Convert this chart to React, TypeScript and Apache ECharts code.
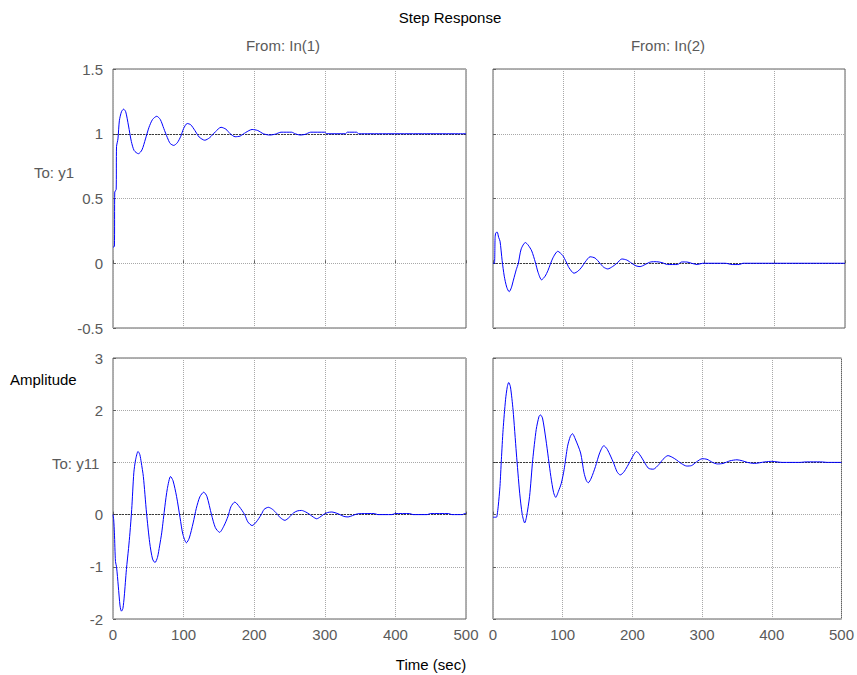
import React, { useEffect, useRef } from "react";
import * as echarts from "echarts";

// Step response samples [time (sec), amplitude]
const y1FromIn1: number[][] = [
  [0, 0.125], [2, 0.13], [2.5, 0.55], [4.5, 0.57], [5, 0.9], [7, 0.96], [9, 1.1], [12, 1.17], [15, 1.19],
  [18, 1.17], [22, 1.06], [26, 0.94], [30, 0.87], [36, 0.846], [41, 0.875], [46, 0.96], [51, 1.05],
  [56, 1.11], [62, 1.135], [67, 1.11], [72, 1.04], [77, 0.97], [81, 0.925], [86, 0.91], [91, 0.93],
  [96, 0.98], [100, 1.04], [105, 1.079], [110, 1.07], [116, 1.025], [122, 0.975], [130, 0.95],
  [137, 0.97], [145, 1.015], [153, 1.05], [160, 1.035], [166, 1.0], [173, 0.977], [180, 0.982],
  [188, 1.01], [197, 1.033], [205, 1.025], [213, 1.0], [222, 0.99], [230, 0.997], [238, 1.012],
  [253, 1.012], [258, 1.0], [265, 0.99], [272, 0.995], [280, 1.012], [300, 1.012], [303, 1.0],
  [329, 1.0], [332, 1.012], [345, 1.012], [348, 1.0], [500, 1.0],
];

const y1FromIn2: number[][] = [
  [0, 0], [2, 0], [3, 0.2], [4, 0.235], [6, 0.24], [8, 0.2], [10, 0.17], [13, 0.02], [16, -0.1],
  [19.5, -0.185], [23, -0.22], [26, -0.19], [29, -0.13], [33, -0.05], [36, 0], [40, 0.11], [46, 0.16],
  [50, 0.14], [55, 0.095], [60, 0.01], [64, -0.07], [69, -0.128], [74, -0.1], [78, -0.057], [85, 0.04],
  [92, 0.092], [99, 0.06], [104, 0.01], [108, -0.035], [115, -0.077], [121, -0.06], [126, -0.03],
  [131, 0.01], [138, 0.05], [145, 0.04], [152, 0.0], [157, -0.03], [163, -0.044], [170, -0.025],
  [176, 0.0], [183, 0.033], [190, 0.025], [197, 0.0], [203, -0.02], [209, -0.026], [216, -0.01],
  [224, 0.01], [232, 0.012], [240, 0.005], [248, -0.01], [262, -0.01], [268, 0.01], [275, 0.01],
  [282, 0], [290, -0.01], [298, 0], [330, 0], [340, -0.01], [350, -0.01], [355, 0], [500, 0],
];

const y11FromIn1: number[][] = [
  [0, 0], [1, -0.1], [2, -0.35], [3.5, -0.9], [5, -1.0], [7.5, -1.37], [10, -1.75], [12, -1.85],
  [14, -1.8], [16, -1.56], [19, -1.05], [22, -0.65], [24, -0.35], [26.5, 0.1], [29.5, 0.8], [32, 1.05],
  [35.5, 1.21], [38, 1.15], [40, 1.0], [43, 0.73], [47.5, 0.03], [52, -0.54], [56, -0.85],
  [59.5, -0.92], [63, -0.82], [66, -0.6], [69, -0.35], [73.5, 0.16], [77, 0.5], [81.5, 0.73],
  [85, 0.65], [90, 0.35], [95, -0.06], [99, -0.38], [104, -0.54], [108, -0.45], [113.5, -0.16],
  [118, 0.12], [123, 0.34], [128.5, 0.43], [133, 0.35], [139.5, 0.0], [145, -0.25], [151, -0.34],
  [157, -0.22], [163, -0.03], [167, 0.15], [172.5, 0.24], [179, 0.15], [186.5, 0.0], [191, -0.14],
  [197, -0.21], [203, -0.14], [210, 0.0], [214, 0.1], [220, 0.14], [226, 0.1], [232, 0.02],
  [237, -0.06], [243.5, -0.11], [249, -0.06], [255.5, 0.03], [261, 0.07], [267, 0.08], [273, 0.05],
  [279, 0], [284, -0.05], [288.5, -0.08], [293, -0.05], [298, 0], [304, 0.04], [310, 0.05],
  [316, 0.03], [321.5, 0], [327, -0.035], [333, -0.045], [339, -0.02], [345, 0.01], [352, 0.02],
  [370, 0.02], [375, 0.0], [395, 0.0], [400, 0.02], [420, 0.02], [425, 0], [445, 0], [450, 0.02],
  [475, 0.02], [480, 0], [495, 0], [498, 0.02], [500, 0.02],
];

const y11FromIn2: number[][] = [
  [0, -0.05], [5, -0.05], [6, 0.0], [7.5, 0.16], [10, 0.54], [12, 1.05], [14.5, 1.63], [18, 2.2],
  [20.5, 2.45], [22.5, 2.53], [25, 2.45], [28.8, 2.0], [33.5, 1.18], [38.3, 0.41], [42, 0.0],
  [45.5, -0.16], [48, -0.05], [52.5, 0.35], [57, 1.05], [62, 1.63], [66, 1.88], [68, 1.91],
  [71, 1.85], [76, 1.43], [83, 0.73], [87, 0.42], [90, 0.33], [94, 0.45], [98, 0.6], [102, 0.86],
  [107, 1.31], [111, 1.5], [114, 1.55], [118, 1.45], [125.7, 1.18], [130.6, 0.8], [134, 0.65],
  [136.7, 0.61], [141, 0.7], [147, 0.92], [153, 1.18], [159, 1.32], [164, 1.25], [173, 0.99],
  [178, 0.82], [182.5, 0.76], [188, 0.82], [196.7, 1.02], [202, 1.15], [206, 1.21], [212, 1.12],
  [222.8, 0.89], [230, 0.87], [238, 0.96], [244, 1.06], [251, 1.13], [257, 1.1], [263, 1.05],
  [270, 0.98], [278, 0.93], [285, 0.94], [292, 1.01], [300, 1.07], [307, 1.06], [315, 1.0],
  [322, 0.97], [330, 0.98], [340, 1.03], [350, 1.05], [358, 1.03], [365, 1.0], [375, 0.98],
  [390, 1.01], [400, 1.02], [415, 1.0], [440, 1.0], [450, 1.01], [470, 1.01], [480, 1.0], [500, 1.0],
];

const steadyStates = [1, 0, 0, 1];
const topYRange = [-0.5, 1.5];
const bottomYRange = [-2, 3];
const timeRange = [0, 500];
// tick label hidden behind the "To: y11" row label
const hiddenBottomLeftTick = 1;

const FONT = "Liberation Sans, Arial, sans-serif";
const GRAY = "#5a5a5a";
const FS = 15;

export default function App() {
  const ref = useRef<HTMLDivElement>(null);
  useEffect(() => {
    if (!ref.current) return;
    const chart = echarts.init(ref.current, undefined, { renderer: "svg" });
    const grids = [
      { left: 113, top: 69, width: 353, height: 259 },
      { left: 493, top: 69, width: 352, height: 259 },
      { left: 113, top: 358, width: 353, height: 261 },
      { left: 493, top: 358, width: 352, height: 261 },
    ].map((g) => ({ ...g, show: true, borderColor: "#606060", borderWidth: 1, backgroundColor: "#fff" }));

    const splitLine = { show: true, lineStyle: { color: "#a8a8a8", type: "dotted" as const, width: 1 } };
    const xAxis = [0, 1, 2, 3].map((i) => ({
      type: "value" as const,
      gridIndex: i,
      min: timeRange[0],
      max: timeRange[1],
      interval: 100,
      axisLine: { show: false },
      axisTick: { show: true, inside: true, length: 3, lineStyle: { color: "#606060" } },
      splitLine,
      axisLabel: { show: i >= 2, color: GRAY, fontSize: FS, fontFamily: FONT, margin: 8 },
    }));
    const yAxis = [0, 1, 2, 3].map((i) => {
      const r = i < 2 ? topYRange : bottomYRange;
      return {
        type: "value" as const,
        gridIndex: i,
        min: r[0],
        max: r[1],
        interval: i < 2 ? 0.5 : 1,
        axisLine: { show: false },
        axisTick: { show: true, inside: true, length: 3, lineStyle: { color: "#606060" } },
        splitLine,
        axisLabel: {
          show: i % 2 === 0,
          color: GRAY,
          fontSize: FS,
          fontFamily: FONT,
          margin: 10,
          formatter: (v: number) => (i === 2 && v === hiddenBottomLeftTick ? "" : String(v)),
        },
      };
    });
    const datas = [y1FromIn1, y1FromIn2, y11FromIn1, y11FromIn2];
    const series = datas.map((d, i) => ({
      type: "line" as const,
      xAxisIndex: i,
      yAxisIndex: i,
      data: d,
      showSymbol: false,
      smooth: 0.25,
      lineStyle: { color: "#0000ff", width: 1 },
      z: 3,
      markLine: {
        silent: true,
        symbol: "none",
        label: { show: false },
        lineStyle: { color: "#3a3a3a", type: [2, 1], width: 1.2 },
        data: [{ yAxis: steadyStates[i] }],
        z: 2,
      },
    }));

    const txt = (text: string, x: number, y: number, color: string, align = "center") => ({
      type: "text" as const,
      x,
      y,
      style: { text, fill: color, fontSize: FS, fontFamily: FONT, textAlign: align, textVerticalAlign: "middle" },
    });

    chart.setOption({
      animation: false,
      backgroundColor: "#fff",
      grid: grids,
      xAxis,
      yAxis,
      series,
      graphic: [
        txt("Step Response", 450, 17, "#000"),
        txt("From: In(1)", 283, 45, GRAY),
        txt("From: In(2)", 668, 45, GRAY),
        txt("To: y1", 34, 172, GRAY, "left"),
        txt("Amplitude", 10, 379, "#000", "left"),
        txt("To: y11", 52, 463, GRAY, "left"),
        txt("Time (sec)", 431, 664, "#000"),
      ],
    });
    return () => chart.dispose();
  }, []);
  return <div ref={ref} style={{ position: "fixed", left: 0, top: 0, width: 857, height: 675 }} />;
}
